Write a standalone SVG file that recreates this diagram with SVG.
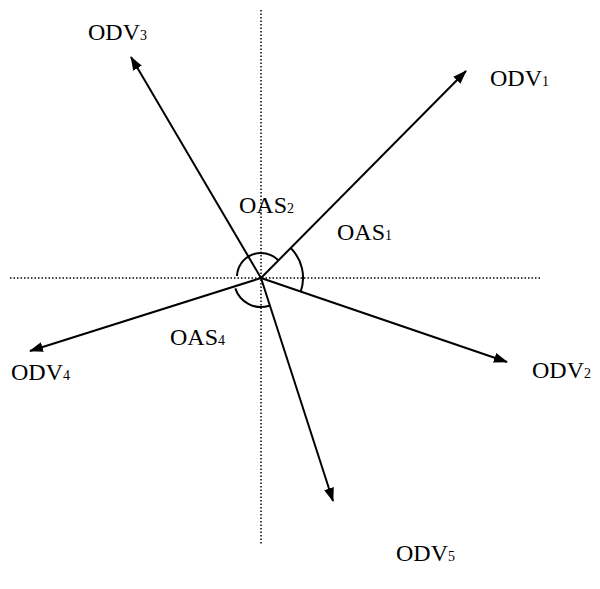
<svg xmlns="http://www.w3.org/2000/svg" width="600" height="589" viewBox="0 0 600 589">
<defs>
<marker id="ah" viewBox="0 0 14 10" refX="13" refY="5" markerWidth="14" markerHeight="10" markerUnits="userSpaceOnUse" orient="auto">
<path d="M0,0 L14,5 L0,10 Z" fill="#000"/>
</marker>
</defs>
<style>
.ax{stroke:#000;stroke-width:1.5;stroke-dasharray:1.5,2;fill:none}
.v{stroke:#000;stroke-width:2;fill:none;marker-end:url(#ah)}
.arc{stroke:#000;stroke-width:2;fill:none}
text{font-family:"Liberation Serif","Times New Roman",serif;font-size:24px;fill:#000}
.s{font-size:14px}
</style>
<rect width="600" height="589" fill="#fff"/>
<g id="axes">
<line class="ax" x1="261" y1="10" x2="261" y2="545"/>
<line class="ax" x1="10" y1="278" x2="542" y2="278"/>
</g>
<g id="connectors">
<line class="v" x1="261" y1="278" x2="466" y2="71"/>
<line class="v" x1="261" y1="278" x2="131" y2="57"/>
<line class="v" x1="261" y1="278" x2="507" y2="362"/>
<line class="v" x1="261" y1="278" x2="30" y2="351"/>
<line class="v" x1="261" y1="278" x2="333" y2="501"/>
</g>
<g id="angles">
<path class="arc" d="M237,276 A24,24 0 0 1 278,260"/>
<path class="arc" d="M290.7,248 A42,42 0 0 1 300.7,291.6"/>
<path class="arc" d="M235.3,288.4 A27,27 0 0 0 269.3,305.7"/>
</g>
<g id="ODV1"><text x="490" y="86">ODV<tspan class="s">1</tspan></text></g>
<g id="ODV2"><text x="532" y="378">ODV<tspan class="s">2</tspan></text></g>
<g id="ODV3"><text x="88" y="40">ODV<tspan class="s">3</tspan></text></g>
<g id="ODV4"><text x="11" y="380">ODV<tspan class="s">4</tspan></text></g>
<g id="ODV5"><text x="396" y="561">ODV<tspan class="s">5</tspan></text></g>
<g id="OAS1"><text x="337" y="240">OAS<tspan class="s">1</tspan></text></g>
<g id="OAS2"><text x="239" y="213">OAS<tspan class="s">2</tspan></text></g>
<g id="OAS4"><text x="170" y="345">OAS<tspan class="s">4</tspan></text></g>
</svg>
